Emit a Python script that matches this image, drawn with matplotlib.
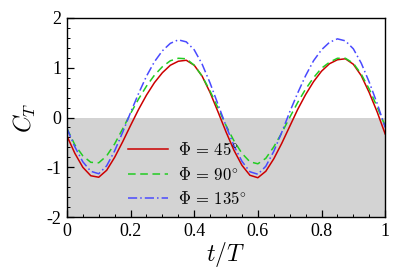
import matplotlib
matplotlib.use("Agg")
import matplotlib.pyplot as plt
from matplotlib.ticker import MultipleLocator, FuncFormatter

t = [0.0, 0.025, 0.05, 0.075, 0.1, 0.125, 0.15, 0.175, 0.2, 0.225,
     0.25, 0.275, 0.3, 0.325, 0.35, 0.375, 0.4, 0.425, 0.45, 0.475,
     0.5, 0.525, 0.55, 0.575, 0.6, 0.625, 0.65, 0.675, 0.7, 0.725,
     0.75, 0.775, 0.8, 0.825, 0.85, 0.875, 0.9, 0.925, 0.95, 0.975, 1.0]

ct_45 = [-0.37, -0.72, -1.00, -1.17, -1.20, -1.06, -0.80, -0.49, -0.16, 0.16,
         0.45, 0.70, 0.90, 1.05, 1.13, 1.15, 1.05, 0.83, 0.50, 0.11,
         -0.29, -0.66, -0.96, -1.16, -1.21, -1.08, -0.83, -0.52, -0.18, 0.16,
         0.46, 0.72, 0.93, 1.08, 1.16, 1.18, 1.07, 0.84, 0.50, 0.11, -0.33]

ct_90 = [-0.22, -0.55, -0.77, -0.90, -0.91, -0.77, -0.53, -0.23, 0.08, 0.37,
         0.63, 0.85, 1.02, 1.14, 1.19, 1.18, 1.05, 0.83, 0.53, 0.19,
         -0.16, -0.47, -0.72, -0.89, -0.93, -0.82, -0.59, -0.31, 0.00, 0.30,
         0.57, 0.80, 0.99, 1.11, 1.19, 1.19, 1.09, 0.87, 0.57, 0.21, -0.17]

ct_135 = [-0.22, -0.59, -0.89, -1.08, -1.13, -0.97, -0.67, -0.30, 0.10, 0.48,
          0.83, 1.12, 1.34, 1.49, 1.56, 1.52, 1.36, 1.07, 0.69, 0.26,
          -0.17, -0.57, -0.88, -1.09, -1.14, -0.98, -0.68, -0.30, 0.11, 0.49,
          0.84, 1.14, 1.36, 1.51, 1.58, 1.54, 1.38, 1.09, 0.71, 0.28, -0.20]

labels = [r"$\Phi\,=\,45^{\circ}$", r"$\Phi\,=\,90^{\circ}$", r"$\Phi\,=\,135^{\circ}$"]

plt.rcParams["mathtext.fontset"] = "cm"
plt.rcParams["font.family"] = ["Liberation Serif", "DejaVu Serif"]
plt.rcParams["axes.unicode_minus"] = False

fig = plt.figure(figsize=(4.08, 2.72), dpi=100)
ax = fig.add_axes([0.164, 0.202, 0.78, 0.732])

ax.axhspan(-2, 0, color="#d3d3d3", zorder=0, linewidth=0)

ax.plot(t, ct_45, color="#cc0000", lw=1.1, ls="-", label=labels[0])
ax.plot(t, ct_90, color="#22cc22", lw=1.1, ls=(0, (5, 3)), label=labels[1])
ax.plot(t, ct_135, color="#4a4aff", lw=1.1, ls=(0, (6, 2, 1, 2)), label=labels[2])

ax.set_xlim(0, 1)
ax.set_ylim(-2, 2)
ax.xaxis.set_major_locator(MultipleLocator(0.2))
ax.xaxis.set_minor_locator(MultipleLocator(0.05))
ax.yaxis.set_major_locator(MultipleLocator(1))
ax.yaxis.set_minor_locator(MultipleLocator(0.2))
ax.xaxis.set_major_formatter(FuncFormatter(lambda v, p: f"{v:g}"))
ax.yaxis.set_major_formatter(FuncFormatter(lambda v, p: f"{v:g}"))
ax.tick_params(which="both", direction="in", top=False, right=False, labelsize=13, pad=4)
ax.tick_params(which="major", length=5, width=0.9)
ax.tick_params(which="minor", length=2.5, width=0.7)
for s in ax.spines.values():
    s.set_linewidth(1.0)

ax.set_xlabel(r"$t/T$", fontsize=17, labelpad=0)
ax.set_ylabel(r"$C_T$", fontsize=17, labelpad=6)

ax.legend(loc="upper left", bbox_to_anchor=(0.17, 0.41), frameon=False,
          fontsize=12, handlelength=2.4, handletextpad=0.6, labelspacing=0.45,
          borderaxespad=0)

fig.savefig("out.png", dpi=100)
